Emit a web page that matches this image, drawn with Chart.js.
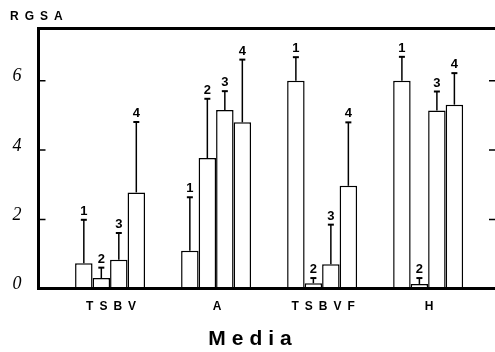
<!DOCTYPE html>
<html>
<head>
<meta charset="utf-8">
<script src="https://cdn.jsdelivr.net/npm/chart.js@4"></script>
<style>
  html, body { margin: 0; padding: 0; background: #fff; overflow: hidden; }
  #wrap { width: 496px; height: 352px; }
</style>
</head>
<body>
<div id="wrap"><canvas id="rgsaChart"></canvas></div>
<script>
// medium groups on the x axis
const media = ["TSBV", "A", "TSBVF", "H"];
const barNames = ["1", "2", "3", "4"];

// RGSA means per bar position (one value per medium)
const bar1 = [0.74, 1.10, 6.00, 6.00];
const bar2 = [0.31, 3.77, 0.16, 0.14];
const bar3 = [0.84, 5.16, 0.71, 5.14];
const bar4 = [2.78, 4.80, 2.97, 5.31];

// upper error (SD) for each bar
const err1 = [1.25, 1.54, 0.68, 0.69];
const err2 = [0.30, 1.71, 0.15, 0.17];
const err3 = [0.77, 0.54, 1.14, 0.55];
const err4 = [2.03, 1.81, 1.83, 0.91];

const yTicks = [0, 2, 4, 6];

const series = [bar1, bar2, bar3, bar4];
const errors = [err1, err2, err3, err4];

const frame = {
  id: "frame",
  beforeDraw(chart) {
    // spaced-out lettering for titles and x labels
    chart.ctx.letterSpacing = "6px";
  },
  afterDatasetsDraw(chart) {
    chart.ctx.letterSpacing = "0px";
  },
  afterDraw(chart) {
    const { ctx, chartArea: a, scales: { y } } = chart;
    ctx.save();
    ctx.strokeStyle = "#000";
    ctx.lineWidth = 3;
    ctx.beginPath();
    ctx.moveTo(a.left - 1.5, a.top);
    ctx.lineTo(a.right + 2, a.top);
    ctx.stroke();
    ctx.lineWidth = 1.5;
    y.ticks.forEach(t => {
      if (t.value === 0) return;
      const py = y.getPixelForValue(t.value);
      ctx.beginPath();
      ctx.moveTo(a.left, py);
      ctx.lineTo(a.left + 7, py);
      ctx.moveTo(a.right, py);
      ctx.lineTo(a.right - 7, py);
      ctx.stroke();
    });
    ctx.restore();
  }
};

const errorBars = {
  id: "errorBars",
  afterDatasetsDraw(chart) {
    const ctx = chart.ctx;
    const y = chart.scales.y;
    ctx.save();
    ctx.letterSpacing = "0px";
    ctx.strokeStyle = "#000";
    ctx.fillStyle = "#000";
    ctx.font = "bold 13px 'Liberation Sans', Arial, sans-serif";
    ctx.textAlign = "center";
    ctx.textBaseline = "alphabetic";
    chart.data.datasets.forEach((ds, d) => {
      chart.getDatasetMeta(d).data.forEach((bar, i) => {
        const top = y.getPixelForValue(series[d][i] + errors[d][i]);
        ctx.lineWidth = 1.5;
        ctx.beginPath();
        ctx.moveTo(bar.x, bar.y);
        ctx.lineTo(bar.x, top);
        ctx.stroke();
        ctx.lineWidth = 2;
        ctx.beginPath();
        ctx.moveTo(bar.x - 3, top);
        ctx.lineTo(bar.x + 3, top);
        ctx.stroke();
        ctx.fillText(ds.label, bar.x, top - 5);
      });
    });
    ctx.restore();
  }
};

new Chart(document.getElementById("rgsaChart"), {
  type: "bar",
  data: {
    datasets: series.map((vals, d) => ({
      label: barNames[d],
      data: vals.map((v, i) => ({ x: i + 1, y: v })),
      backgroundColor: "#fff",
      borderColor: "#000",
      borderWidth: 1.5,
      categoryPercentage: 0.66,
      barPercentage: 1
    }))
  },
  options: {
    responsive: true,
    maintainAspectRatio: false,
    animation: false,
    layout: { padding: { left: 10, right: 0, top: 0, bottom: 0 } },
    plugins: {
      legend: { display: false },
      tooltip: { enabled: false },
      title: {
        display: true,
        text: "RGSA",
        align: "start",
        color: "#000",
        font: { family: "'Liberation Sans', Arial, sans-serif", size: 12, weight: "bold" },
        padding: { top: 9, bottom: 5 }
      },
      subtitle: {
        display: true,
        position: "bottom",
        text: "Media",
        color: "#000",
        font: { family: "'Liberation Sans', Arial, sans-serif", size: 21, weight: "bold" },
        padding: { top: 5, bottom: 0 }
      }
    },
    scales: {
      x: {
        type: "linear",
        offset: false,
        min: 0.325,
        max: 4.64,
        grid: { display: false, drawTicks: false },
        border: { display: true, color: "#000", width: 3, z: 1 },
        afterBuildTicks: s => { s.ticks = media.map((m, i) => ({ value: i + 1 })); },
        afterFit: s => { s.height = 33; },
        ticks: {
          color: "#000",
          padding: 11,
          labelOffset: 4,
          maxRotation: 0,
          font: { family: "'Liberation Sans', Arial, sans-serif", size: 12, weight: "bold" },
          callback: v => media[v - 1] || ""
        }
      },
      y: {
        min: 0,
        max: 7.51,
        grid: { display: false, drawTicks: false },
        border: { display: true, color: "#000", width: 3, z: 1 },
        afterBuildTicks: s => { s.ticks = yTicks.map(v => ({ value: v })); },
        afterFit: s => { s.width = 28.5; },
        ticks: {
          z: 1,
          color: "#000",
          padding: 17,
          // empty second line lifts each number a little above its tick
          callback: v => [String(v), ""],
          font: { family: "'Liberation Serif', 'DejaVu Serif', serif", size: 18, style: "italic", lineHeight: 0.45 }
        }
      }
    }
  },
  plugins: [frame, errorBars]
});
</script>
</body>
</html>
